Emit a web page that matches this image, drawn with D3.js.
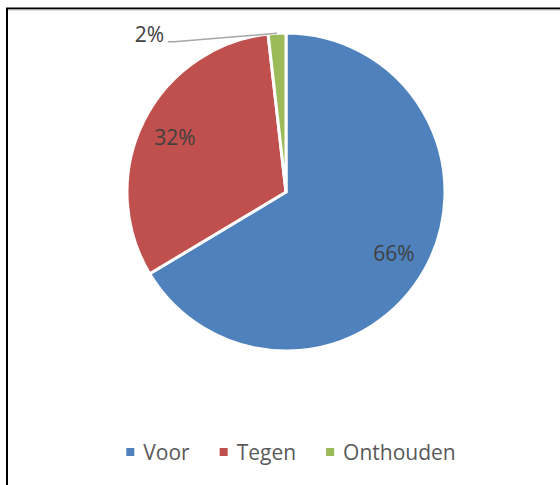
<!DOCTYPE html>
<html>
<head>
<meta charset="utf-8">
<script src="https://cdn.jsdelivr.net/npm/d3@7"></script>
<style>
  body { margin: 0; background: #fff; }
  text { font-family: "Open Sans", "Noto Sans", sans-serif; }
</style>
</head>
<body>
<svg id="chart" width="560" height="485"></svg>
<script>
'use strict'

// data
const labels = ['Voor', 'Tegen', 'Onthouden']
const values = [66.4, 31.8, 1.8]
const colors = ['#4F81BD', '#C0504D', '#9BBB59']

const svg = d3.select('#chart')

// chart frame (cut off at right and bottom)
svg.append('rect')
	.attr('x', 7).attr('y', 8.5)
	.attr('width', 700).attr('height', 700)
	.attr('fill', 'none')
	.attr('stroke', '#000').attr('stroke-width', 2)
svg.append('line')
	.attr('x1', 8).attr('x2', 560).attr('y1', 10).attr('y2', 10)
	.attr('stroke', '#c8c8c8').attr('stroke-width', 1)

const cx = 286, cy = 192, r = 159

const data = labels.map(function(d, i){
	return {name: d, value: values[i], color: colors[i]}
})
const total = d3.sum(values)

const pie = d3.pie().sort(null).value(function(d){ return d.value })
const arcs = pie(data)

const arc = d3.arc().innerRadius(0).outerRadius(r)
const labelArc = d3.arc().innerRadius(124).outerRadius(124)

const g = svg.append('g').attr('transform', 'translate(' + cx + ',' + cy + ')')

g.selectAll('path')
	.data(arcs)
	.join('path')
	.attr('d', arc)
	.attr('fill', function(d){ return d.data.color })
	.attr('stroke', '#fff')
	.attr('stroke-width', 3)
	.attr('stroke-linejoin', 'round')

function pct(d){ return Math.round(d.data.value / total * 100) + '%' }

// inside labels for the two big slices
g.selectAll('text.inner')
	.data(arcs.slice(0, 2))
	.join('text')
	.attr('class', 'inner')
	.attr('transform', function(d){ return 'translate(' + labelArc.centroid(d) + ')' })
	.attr('text-anchor', 'middle')
	.attr('dy', '0.36em')
	.attr('font-size', 21)
	.attr('fill', '#404040')
	.text(pct)

// small slice: label outside with a leader line
const small = arcs[2]
const mid = (small.startAngle + small.endAngle) / 2
const edge = [Math.sin(mid) * r, -Math.cos(mid) * r]
const lab = [edge[0] - 109, edge[1] + 8.5]

g.append('polyline')
	.attr('points', [lab, [lab[0] + 6, lab[1]], edge].map(function(p){ return p.join(',') }).join(' '))
	.attr('fill', 'none')
	.attr('stroke', '#a6a6a6')
	.attr('stroke-width', 1.5)

g.append('text')
	.attr('x', lab[0] - 4)
	.attr('y', lab[1] - 7)
	.attr('text-anchor', 'end')
	.attr('dy', '0.36em')
	.attr('font-size', 21)
	.attr('fill', '#404040')
	.text(pct(small))

// legend
const legend = svg.append('g')
const items = legend.selectAll('g')
	.data(data)
	.join('g')

items.append('rect')
	.attr('width', 8).attr('height', 8)
	.attr('y', -4)
	.attr('fill', function(d){ return d.color })

items.append('text')
	.attr('x', 17)
	.attr('dy', '0.36em')
	.attr('font-size', 21)
	.attr('fill', '#595959')
	.text(function(d){ return d.name })

let xpos = 0
items.each(function(){
	const w = d3.select(this).select('text').node().getComputedTextLength()
	d3.select(this).attr('transform', 'translate(' + xpos + ',0)')
	xpos += 17 + w + 30
})
const legendWidth = xpos - 30
legend.attr('transform', 'translate(' + (291 - legendWidth / 2) + ',452)')
</script>
</body>
</html>
